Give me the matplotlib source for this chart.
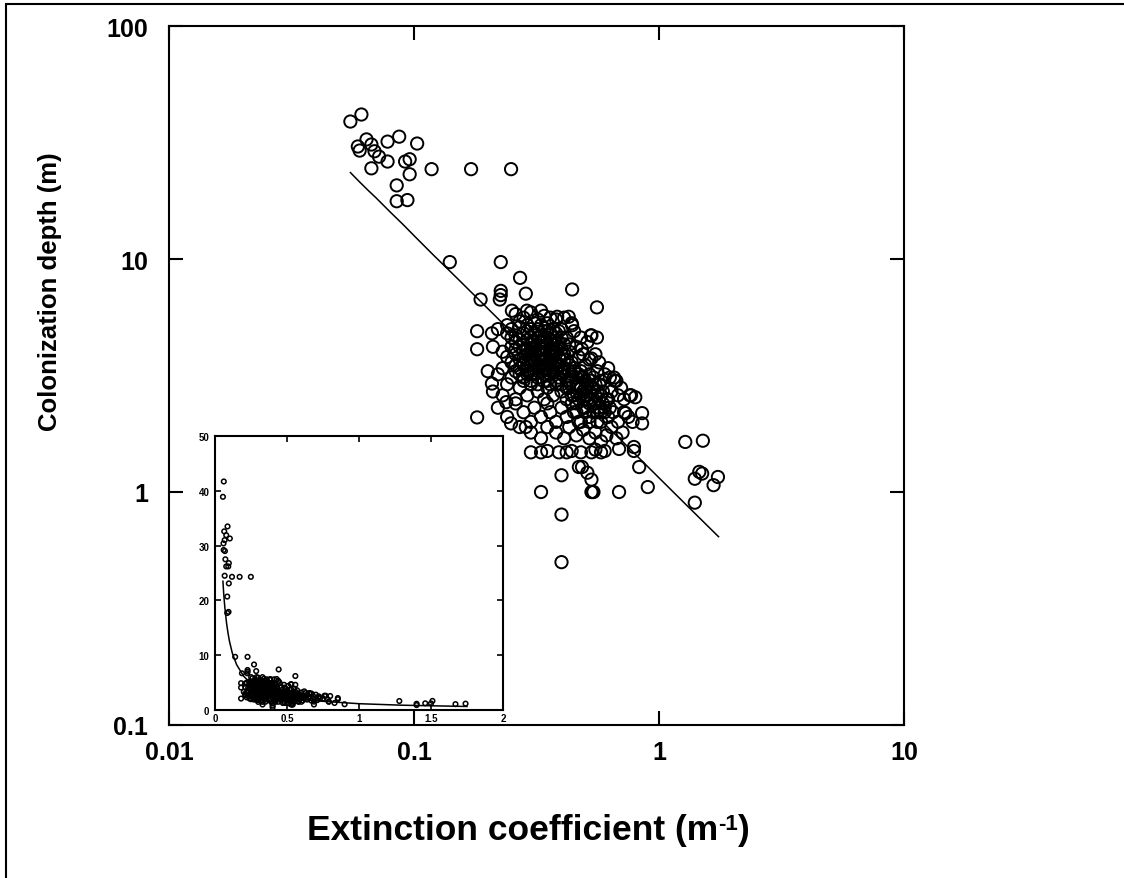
import matplotlib
matplotlib.use('Agg')
import matplotlib.pyplot as plt
from matplotlib.patches import Rectangle

plt.rcParams['font.family'] = ['Liberation Sans', 'DejaVu Sans']
plt.rcParams['font.weight'] = 'bold'

# ── Data: (extinction coefficient m^-1, colonization depth m) ──
clear_lakes = [(0.055, 38.9), (0.061, 41.7), (0.064, 32.6), (0.059, 30.4), (0.060, 29.2),
               (0.067, 31.0), (0.069, 29.0), (0.072, 27.5), (0.078, 26.2), (0.067, 24.5),
               (0.078, 31.9), (0.087, 33.5), (0.103, 31.3), (0.092, 26.2), (0.096, 26.8),
               (0.096, 23.1), (0.118, 24.3), (0.171, 24.3), (0.249, 24.3), (0.085, 20.7),
               (0.085, 17.7), (0.094, 17.9)]

edge_pts = [(0.140, 9.7), (0.226, 9.7), (0.271, 8.3), (0.226, 7.3), (0.226, 7.0), (0.224, 6.7),
            (0.286, 7.1), (0.442, 7.4), (0.558, 6.2), (0.187, 6.7), (0.181, 4.9), (0.181, 4.1),
            (0.208, 4.8), (0.251, 6.0), (0.289, 6.0), (0.330, 6.0), (0.384, 5.65), (0.428, 5.65),
            (0.442, 5.2), (0.527, 4.7), (0.558, 4.6), (0.485, 4.1), (0.530, 3.74), (0.655, 3.1),
            (0.670, 3.0), (0.769, 2.6), (0.853, 2.18), (0.730, 2.18), (0.208, 2.92), (0.238, 2.43),
            (0.181, 2.09), (0.249, 1.97), (0.286, 1.9)]

low_pts = [(0.400, 1.18), (0.485, 1.28), (0.510, 1.21), (0.530, 1.13), (0.330, 1.0), (0.540, 1.0),
           (0.535, 1.0), (0.530, 1.0), (0.687, 1.0), (0.830, 1.28), (0.900, 1.05), (0.400, 0.80),
           (0.400, 0.50), (0.853, 1.97), (0.790, 1.56), (0.790, 1.50), (0.687, 1.53), (0.471, 1.28)]

turbid_pts = [(1.28, 1.64), (1.51, 1.66), (1.46, 1.22), (1.40, 1.14), (1.50, 1.20),
              (1.74, 1.16), (1.67, 1.07), (1.40, 0.90)]

band_6 = [(0.26, 5.8), (0.28, 5.6), (0.30, 5.9), (0.32, 5.5), (0.34, 5.7), (0.36, 5.6),
          (0.31, 5.3), (0.27, 5.4), (0.38, 5.5), (0.41, 5.6), (0.44, 5.3), (0.24, 5.2)]

band_5 = [(0.22, 5.0), (0.24, 4.8), (0.25, 4.6), (0.27, 5.1), (0.29, 4.9), (0.30, 4.6),
          (0.32, 5.0), (0.33, 4.7), (0.35, 4.9), (0.36, 4.5), (0.38, 4.8), (0.40, 5.0),
          (0.42, 4.6), (0.45, 4.9), (0.48, 4.6), (0.51, 4.4), (0.53, 4.7), (0.26, 4.4),
          (0.28, 4.3), (0.31, 4.4), (0.34, 4.2), (0.37, 4.3), (0.39, 4.4), (0.43, 4.3),
          (0.46, 4.2)]

band_4 = [(0.21, 4.2), (0.23, 4.0), (0.24, 3.8), (0.26, 4.1), (0.27, 3.7), (0.29, 3.9),
          (0.30, 4.1), (0.31, 3.6), (0.33, 3.9), (0.34, 3.7), (0.35, 4.0), (0.37, 3.8),
          (0.38, 3.6), (0.40, 3.9), (0.41, 3.7), (0.43, 4.0), (0.44, 3.6), (0.47, 3.8),
          (0.49, 3.9), (0.52, 3.7), (0.55, 3.9), (0.57, 3.6), (0.50, 3.5), (0.28, 3.5),
          (0.25, 3.6), (0.36, 3.5), (0.45, 3.4)]

band_3 = [(0.20, 3.3), (0.22, 3.2), (0.23, 3.4), (0.25, 3.1), (0.26, 3.3), (0.28, 3.0),
          (0.29, 3.2), (0.31, 3.4), (0.32, 3.1), (0.33, 3.3), (0.35, 3.0), (0.36, 3.2),
          (0.38, 3.4), (0.39, 3.1), (0.41, 3.3), (0.42, 3.0), (0.44, 3.2), (0.46, 3.1),
          (0.48, 3.3), (0.50, 3.0), (0.52, 3.2), (0.54, 3.1), (0.56, 3.3), (0.58, 3.0),
          (0.60, 3.2), (0.63, 3.1), (0.66, 3.0), (0.62, 3.4), (0.30, 3.0), (0.40, 3.5)]

band_27 = [(0.21, 2.7), (0.23, 2.6), (0.24, 2.9), (0.26, 2.5), (0.27, 2.8), (0.29, 2.6),
           (0.30, 2.9), (0.32, 2.7), (0.34, 2.5), (0.35, 2.8), (0.37, 2.6), (0.38, 2.9),
           (0.40, 2.7), (0.42, 2.5), (0.43, 2.8), (0.45, 2.6), (0.47, 2.9), (0.49, 2.7),
           (0.51, 2.5), (0.53, 2.8), (0.55, 2.6), (0.57, 2.9), (0.59, 2.7), (0.61, 2.5),
           (0.64, 2.7), (0.68, 2.6), (0.72, 2.5), (0.76, 2.6), (0.80, 2.55), (0.70, 2.8)]

band_2 = [(0.22, 2.3), (0.24, 2.1), (0.26, 2.4), (0.28, 2.2), (0.30, 2.0), (0.31, 2.3),
          (0.33, 2.1), (0.35, 2.4), (0.36, 2.2), (0.38, 2.0), (0.40, 2.3), (0.42, 2.1),
          (0.44, 2.4), (0.46, 2.2), (0.48, 2.0), (0.50, 2.3), (0.52, 2.1), (0.54, 2.4),
          (0.56, 2.2), (0.58, 2.0), (0.60, 2.3), (0.62, 2.1), (0.65, 2.2), (0.68, 2.0),
          (0.72, 2.2), (0.75, 2.1), (0.78, 2.0)]

band_17 = [(0.27, 1.9), (0.30, 1.8), (0.33, 1.7), (0.35, 1.9), (0.38, 1.8), (0.41, 1.7),
           (0.43, 1.9), (0.46, 1.75), (0.49, 1.85), (0.52, 1.7), (0.55, 1.8), (0.58, 1.65),
           (0.61, 1.75), (0.64, 1.9), (0.67, 1.7), (0.71, 1.8)]

band_15 = [(0.30, 1.48), (0.33, 1.48), (0.35, 1.5), (0.39, 1.48), (0.42, 1.48), (0.44, 1.5),
           (0.48, 1.48), (0.53, 1.48), (0.55, 1.52), (0.58, 1.48), (0.60, 1.5)]

core_a = [(0.29, 4.5), (0.31, 4.0), (0.33, 4.4), (0.35, 4.6), (0.37, 4.1), (0.32, 3.8),
          (0.34, 3.4), (0.30, 3.7), (0.36, 3.7), (0.28, 4.0), (0.39, 4.2), (0.27, 3.2),
          (0.33, 3.6), (0.31, 3.2), (0.37, 3.3), (0.29, 3.5), (0.35, 3.5), (0.30, 4.3),
          (0.34, 4.5), (0.36, 4.0)]

core_b = [(0.47, 2.5), (0.50, 2.8), (0.53, 3.0), (0.48, 3.1), (0.51, 2.6), (0.55, 2.9),
          (0.46, 2.8), (0.52, 2.4), (0.57, 2.5), (0.49, 2.3)]

core_c = [(0.25, 5.0), (0.26, 4.7), (0.27, 4.5), (0.28, 4.8), (0.29, 5.2), (0.30, 5.0),
          (0.31, 4.8), (0.32, 4.6), (0.33, 5.2), (0.34, 4.9), (0.35, 5.3), (0.36, 4.8),
          (0.37, 5.0), (0.38, 4.6), (0.39, 4.9), (0.40, 4.6), (0.41, 4.3), (0.25, 4.2),
          (0.26, 3.9), (0.27, 4.2), (0.28, 3.8), (0.29, 4.1), (0.30, 3.9), (0.31, 4.2),
          (0.32, 4.0), (0.33, 4.1), (0.34, 3.9), (0.35, 4.3), (0.36, 3.9), (0.37, 4.0),
          (0.38, 4.1), (0.39, 3.8), (0.40, 4.1), (0.41, 3.9), (0.42, 3.7), (0.26, 3.5),
          (0.27, 3.4), (0.28, 3.6), (0.29, 3.3), (0.30, 3.5), (0.31, 3.7), (0.32, 3.4),
          (0.33, 3.5), (0.34, 3.2), (0.35, 3.4), (0.36, 3.3), (0.37, 3.5), (0.38, 3.3),
          (0.39, 3.5), (0.40, 3.2), (0.41, 3.4), (0.43, 3.3), (0.28, 3.1), (0.30, 3.2),
          (0.32, 2.9), (0.34, 3.0), (0.36, 2.9), (0.38, 3.0), (0.40, 2.9), (0.42, 2.8)]

core_d = [(0.43, 3.5), (0.44, 3.0), (0.45, 3.3), (0.46, 2.9), (0.47, 3.2), (0.48, 2.8),
          (0.49, 3.1), (0.50, 2.6), (0.51, 2.9), (0.52, 2.7), (0.53, 2.5), (0.54, 2.8),
          (0.55, 2.4), (0.56, 2.7), (0.57, 2.3), (0.58, 2.6), (0.59, 2.4), (0.60, 2.2),
          (0.62, 2.5), (0.63, 2.3), (0.44, 2.6), (0.46, 2.4), (0.48, 2.6), (0.50, 2.2),
          (0.52, 2.0), (0.54, 2.2), (0.56, 2.0), (0.45, 2.2), (0.47, 2.0), (0.58, 2.2)]

# regression line
fit_k = [0.055, 0.06, 0.065, 0.07, 0.08, 0.09, 0.1, 0.12, 0.15, 0.2, 0.25, 0.3,
         0.4, 0.5, 0.7, 1.0, 1.3, 1.75]
fit_z = [23.5, 21.4, 19.7, 18.3, 15.9, 14.1, 12.6, 10.4, 8.27, 6.13, 4.86, 4.02,
         2.98, 2.36, 1.67, 1.15, 0.875, 0.643]

groups = [clear_lakes, edge_pts, low_pts, turbid_pts, band_6, band_5, band_4, band_3,
          band_27, band_2, band_17, band_15, core_a, core_b, core_c, core_d]
kd = [p[0] for g in groups for p in g]
zc = [p[1] for g in groups for p in g]

W, H = 1124, 879
fig = plt.figure(figsize=(W / 100, H / 100), dpi=100)

# figure frame (only left/top edges visible in the original)
fig.add_artist(Rectangle((6 / W, -0.1), 1.2, 1 - 5 / H + 0.1, transform=fig.transFigure,
                         fill=False, lw=1.5, edgecolor='black'))

# ── Main log-log panel ──
ax = fig.add_axes([169 / W, 1 - 726 / H, 735 / W, 699 / H])
ax.set_xscale('log')
ax.set_yscale('log')
ax.scatter(kd, zc, s=78, facecolors='none', edgecolors='black', linewidths=1.4, zorder=3)
ax.plot(fit_k, fit_z, color='black', lw=1.1, zorder=2)
ax.set_xlim(0.01, 10)
ax.set_ylim(0.1, 100)
ax.set_xticks([0.01, 0.1, 1, 10])
ax.set_xticklabels(['0.01', '0.1', '1', '10'])
ax.set_yticks([0.1, 1, 10, 100])
ax.set_yticklabels(['0.1', '1', '10', '100'])
ax.minorticks_off()
ax.tick_params(direction='in', top=True, right=True, length=10, width=1.5, labelsize=18)
ax.tick_params(axis='x', pad=11)
ax.tick_params(axis='y', pad=15)
for s in ax.spines.values():
    s.set_linewidth(1.5)

fig.text(50 / W, 1 - 292 / H, 'Colonization depth (m)', rotation=90, ha='center',
         va='center', fontsize=18.5, fontweight='bold')

# x label built in pieces so the superscript keeps a plain hyphen
t1 = fig.text(307 / W, 1 - 840 / H, 'Extinction coefficient (m', ha='left',
              va='baseline', fontsize=25.5, fontweight='bold')
t2 = fig.add_artist(plt.Annotation('-1', xy=(1.0, 1.0), xycoords=t1, ha='left', va='top',
                                   fontsize=16, fontweight='bold'))
t3 = fig.add_artist(plt.Annotation(')', xy=(1.0, 0.0), xycoords=(t2, t1), ha='left',
                                   va='bottom', fontsize=25.5, fontweight='bold'))

# ── Inset: linear axes ──
axin = fig.add_axes([215 / W, 1 - 711 / H, 288 / W, 274 / H])
axin.scatter(kd, zc, s=11, facecolors='none', edgecolors='black', linewidths=1.1, zorder=3)
axin.plot(fit_k, fit_z, color='black', lw=1.1, zorder=2)
axin.set_xlim(0, 2)
axin.set_ylim(0, 50)
axin.set_xticks([0, 0.5, 1, 1.5, 2])
axin.set_xticklabels(['0', '0.5', '1', '1.5', '2'])
axin.set_yticks([0, 10, 20, 30, 40, 50])
axin.tick_params(direction='in', top=True, right=True, length=4, width=1.2, labelsize=7)
axin.tick_params(axis='x', pad=2)
axin.tick_params(axis='y', pad=4)
for s in axin.spines.values():
    s.set_linewidth(1.5)

plt.savefig('out.png', dpi=100)
